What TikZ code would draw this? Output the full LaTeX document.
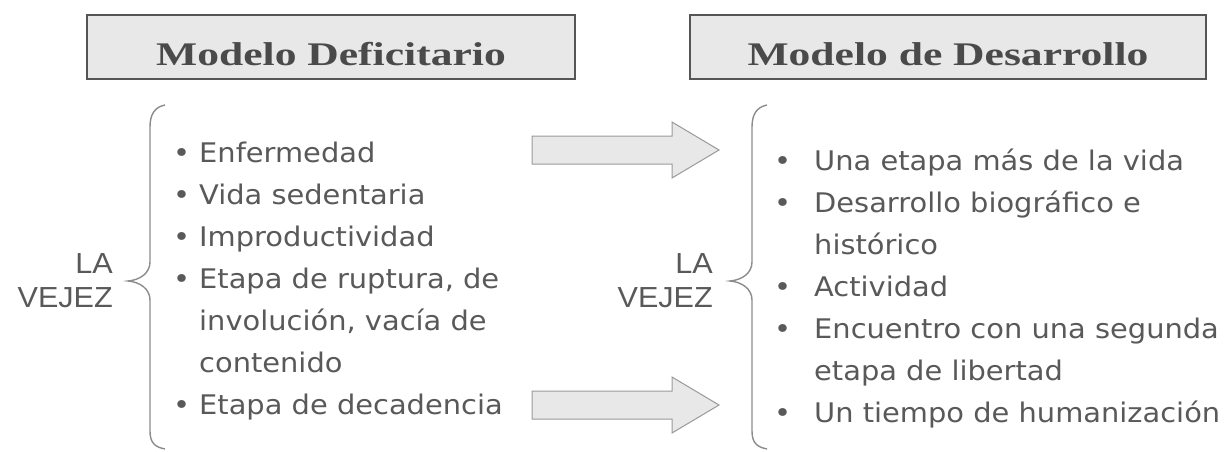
\documentclass[tikz,border=0pt]{standalone}
\usepackage{fontspec}
\setmainfont[FakeStretch=1.07]{DejaVu Sans}
\newfontfamily\titlefont[FakeStretch=1.32]{Liberation Serif}
\newfontfamily\labfont[FakeStretch=1.055]{Liberation Sans}
\definecolor{boxfill}{HTML}{E8E8E8}
\definecolor{boxline}{HTML}{555555}
\definecolor{titlecol}{HTML}{4A4A4A}
\definecolor{textcol}{HTML}{595959}
\definecolor{bracecol}{HTML}{8C8C8C}
\definecolor{arrowline}{HTML}{9A9A9A}
\newcommand{\lbul}{\makebox[26pt][l]{•}}
\newcommand{\lind}{\hspace*{26pt}}
\newcommand{\rbul}{\makebox[40pt][l]{•}}
\newcommand{\rind}{\hspace*{40pt}}
\tikzset{
  titlebox/.style={draw=boxline, line width=1.3pt, fill=boxfill, inner sep=0pt,
    minimum height=64pt, text height=36pt, text depth=0pt,
    font=\titlefont\bfseries\fontsize{33}{36}\selectfont, text=titlecol},
  labeltext/.style={inner sep=0pt, anchor=base east, text=textcol,
    font=\labfont\fontsize{29}{34}\selectfont},
  listtext/.style={inner sep=0pt, anchor=base west, text=textcol,
    font=\fontsize{27}{42}\selectfont},
  bracestyle/.style={draw=bracecol, line width=1.4pt},
  blockarrow/.style={draw=arrowline, line width=1pt, fill=boxfill, line join=miter}
}
\begin{document}
\begin{tikzpicture}[x=1pt,y=-1pt]
\useasboundingbox[fill=white] (0,0) rectangle (1231,451);
% titles
\node[titlebox, minimum width=488pt] (t1) at (331,47) {Modelo Deficitario};
\node[titlebox, minimum width=516pt] (t2) at (948,47) {Modelo de Desarrollo};
% labels
\node[labeltext] (v1) at (113,273) {\begin{tabular}[t]{@{}r@{}}LA\\VEJEZ\end{tabular}};
\node[labeltext] (v2) at (713,273) {\begin{tabular}[t]{@{}r@{}}LA\\VEJEZ\end{tabular}};
% braces
\draw[bracestyle] (165,105) .. controls (155,107) and (150,114) .. (150,127) -- (150,262)
  .. controls (150,273) and (140,280) .. (128,281)
  .. controls (140,282) and (150,289) .. (150,300) -- (150,431)
  .. controls (150,443) and (155,447) .. (165,449);
\draw[bracestyle] (767,105) .. controls (757,107) and (752,114) .. (752,127) -- (752,262)
  .. controls (752,273) and (742,280) .. (730,281)
  .. controls (742,282) and (752,289) .. (752,300) -- (752,431)
  .. controls (752,443) and (757,447) .. (767,449);
% lists
\node[listtext] (l1) at (173,162) {\begin{tabular}[t]{@{}l@{}}
\lbul Enfermedad\\
\lbul Vida sedentaria\\
\lbul Improductividad\\
\lbul Etapa de ruptura, de\\
\lind involución, vacía de\\
\lind contenido\\
\lbul Etapa de decadencia
\end{tabular}};
\node[listtext] (l2) at (774,170) {\begin{tabular}[t]{@{}l@{}}
\rbul Una etapa más de la vida\\
\rbul Desarrollo biográfico e\\
\rind histórico\\
\rbul Actividad\\
\rbul Encuentro con una segunda\\
\rind etapa de libertad\\
\rbul Un tiempo de humanización
\end{tabular}};
% block arrows
\draw[blockarrow] (532,136) -- (672,136) -- (672,122) -- (719,150) -- (672,178) -- (672,164) -- (532,164) -- cycle;
\draw[blockarrow] (532,391) -- (672,391) -- (672,377) -- (719,405) -- (672,433) -- (672,419) -- (532,419) -- cycle;
\end{tikzpicture}
\end{document}
